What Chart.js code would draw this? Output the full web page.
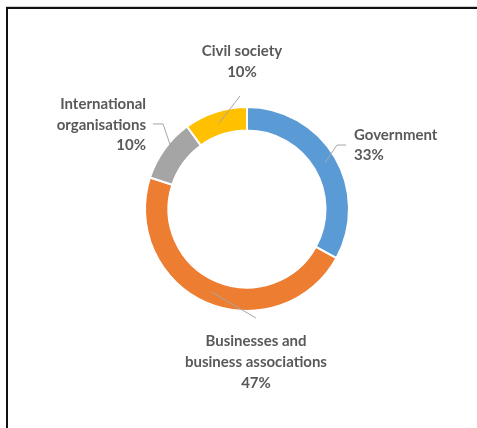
<!DOCTYPE html>
<html>
<head>
<meta charset="utf-8">
<script src="https://cdn.jsdelivr.net/npm/chart.js@4/dist/chart.umd.min.js"></script>
<style>
	html, body { margin: 0; padding: 0; background: #fff; }
	#wrap { position: relative; width: 477px; height: 428px; overflow: hidden; }
	#frame {
		position: absolute; left: 6px; top: 6px; right: 0; bottom: 0;
		border-top: 1px solid #d0d0d0;
	}
	#frame-inner {
		position: absolute; left: 0; top: 0; right: 0; bottom: 0;
		border-top: 2px solid #111; border-left: 2px solid #111;
	}
	canvas { position: absolute; left: 0; top: 0; }
</style>
</head>
<body>
<div id="wrap">
	<div id="frame"><div id="frame-inner"></div></div>
	<canvas id="donut" width="477" height="428"></canvas>
</div>
<script>
var categories = [
	['Government'],
	['Businesses and', 'business associations'],
	['International', 'organisations'],
	['Civil society']
];
var shares = [33, 47, 10, 10];

(function(window, document, undefined) {
	var labelFont = '700 15px Lato, "Open Sans", sans-serif';
	var textColor = '#595959';
	var leaderColor = '#a6a6a6';
	var lineHeight = 20.7;

	// where each label sits, relative to the ring centre (in outer radii),
	// and how its text block hangs off that point
	var placement = [
		{ dx: 1.049, dy: -0.627, align: 'left', valign: 'middle' },
		{ dx: 0.088, dy: 1.206, align: 'center', valign: 'top' },
		{ dx: -0.99, dy: -0.824, align: 'right', valign: 'middle' },
		{ dx: -0.049, dy: -1.245, align: 'center', valign: 'bottom' }
	];

	var outsideLabels = {
		id: 'outsideLabels',
		afterDatasetsDraw: function(chart) {
			var ctx = chart.ctx;
			var meta = chart.getDatasetMeta(0);
			var data = chart.data.datasets[0].data;
			var total = data.reduce(function(a, b) { return a + b; }, 0);

			ctx.save();
			ctx.font = labelFont;
			ctx.textBaseline = 'middle';

			meta.data.forEach(function(arc, i) {
				var p = arc.getProps(['x', 'y', 'startAngle', 'endAngle', 'innerRadius', 'outerRadius'], true);
				var mid = (p.startAngle + p.endAngle) / 2;
				var rMid = (p.innerRadius + p.outerRadius) / 2;
				var sx = p.x + Math.cos(mid) * rMid;
				var sy = p.y + Math.sin(mid) * rMid;
				var pl = placement[i];
				var ax = p.x + pl.dx * p.outerRadius;
				var ay = p.y + pl.dy * p.outerRadius;

				var lines = categories[i].concat([Math.round(data[i] / total * 100) + '%']);
				var blockH = lines.length * lineHeight;
				var firstY;
				if (pl.valign === 'top') {
					firstY = ay + lineHeight / 2 - 1;
				} else if (pl.valign === 'bottom') {
					firstY = ay - blockH + lineHeight / 2;
				} else {
					firstY = ay - blockH / 2 + lineHeight / 2;
				}

				// leader line
				ctx.strokeStyle = leaderColor;
				ctx.lineWidth = 1;
				ctx.beginPath();
				ctx.moveTo(sx, sy);
				if (pl.align === 'left') {
					ctx.lineTo(ax - 17, ay);
					ctx.lineTo(ax - 8, ay);
				} else if (pl.align === 'right') {
					ctx.lineTo(ax + 17, ay - 1);
					ctx.lineTo(ax + 7, ay - 1);
				} else if (pl.valign === 'top') {
					ctx.lineTo(ax, ay - 14);
				} else {
					ctx.lineTo(ax - 2, ay + 14);
				}
				ctx.stroke();

				ctx.fillStyle = textColor;
				ctx.textAlign = pl.align;
				lines.forEach(function(txt, k) {
					ctx.fillText(txt, ax, firstY + k * lineHeight);
				});
			});
			ctx.restore();
		}
	};

	document.addEventListener('DOMContentLoaded', function() {
		var ctx = document.querySelector('#donut');
		new Chart(ctx, {
			type: 'doughnut',
			data: {
				labels: categories,
				datasets: [{
					data: shares,
					backgroundColor: ['#5b9bd5', '#ed7d31', '#a5a5a5', '#ffc000'],
					borderColor: '#ffffff',
					borderWidth: 2,
					hoverOffset: 0
				}]
			},
			options: {
				responsive: false,
				animation: false,
				cutout: '77%',
				layout: {
					padding: { left: 100, right: 83, top: 106, bottom: 116 }
				},
				plugins: {
					legend: { display: false },
					tooltip: { enabled: false }
				}
			},
			plugins: [outsideLabels]
		});
	}, false);
})(window, document);
</script>
</body>
</html>
